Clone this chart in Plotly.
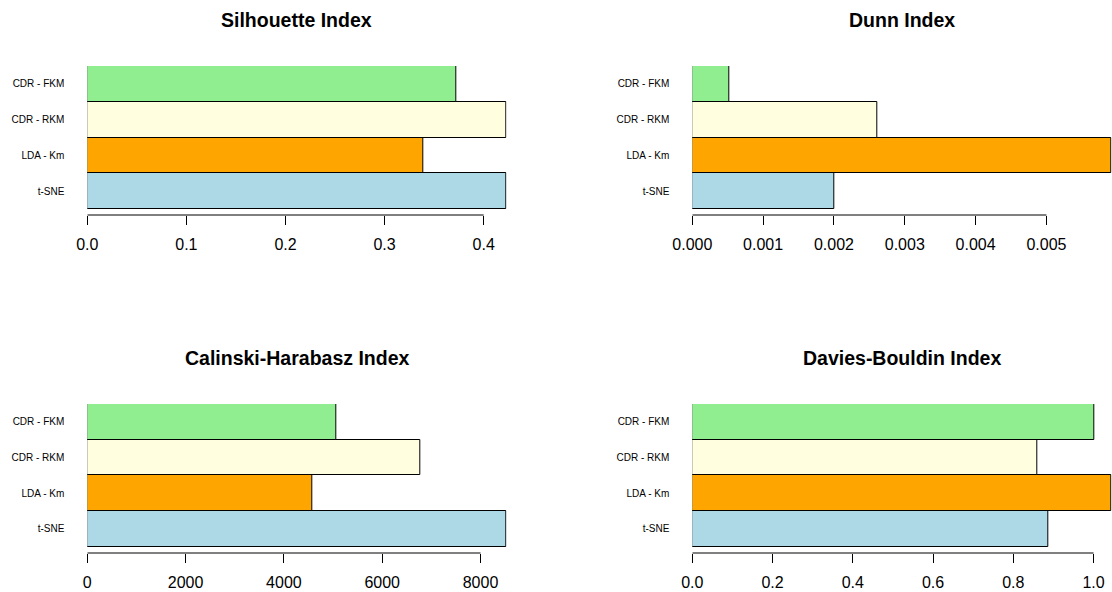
import plotly.graph_objects as go

# Clustering methods, listed bottom to top
methods = ["t-SNE", "LDA - Km", "CDR - RKM", "CDR - FKM"]
bar_colors = ["#ADD8E6", "#FFA500", "#FFFFE0", "#90EE90"]

# Validity index values per method (same order as methods)
silhouette = [0.4230, 0.3386, 0.4227, 0.3725]
dunn = [0.00200, 0.00592, 0.00261, 0.000526]
calinski = [8529, 4576, 6780, 5071]
davies_bouldin = [0.886, 1.045, 0.860, 1.002]

# Axis ticks
sil_ticks = [0, 0.1, 0.2, 0.3, 0.4]
sil_labels = ["0.0", "0.1", "0.2", "0.3", "0.4"]
dunn_ticks = [0, 0.001, 0.002, 0.003, 0.004, 0.005]
dunn_labels = ["0.000", "0.001", "0.002", "0.003", "0.004", "0.005"]
ch_ticks = [0, 2000, 4000, 6000, 8000]
ch_labels = ["0", "2000", "4000", "6000", "8000"]
db_ticks = [0, 0.2, 0.4, 0.6, 0.8, 1.0]
db_labels = ["0.0", "0.2", "0.4", "0.6", "0.8", "1.0"]

titles = ["Silhouette Index", "Dunn Index", "Calinski-Harabasz Index", "Davies-Bouldin Index"]

# Page geometry (pixels)
W, H = 1112, 592
cols = [(87.3, 506.5), (692.3, 1111.6)]
# (bars top, bars bottom, axis line, title centre)
rows = [(66.0, 209.0, 215.0, 20.0), (404.0, 546.5, 553.0, 358.0)]

panels = [
    (titles[0], silhouette, sil_ticks, sil_labels, 0, 0),
    (titles[1], dunn, dunn_ticks, dunn_labels, 1, 0),
    (titles[2], calinski, ch_ticks, ch_labels, 0, 1),
    (titles[3], davies_bouldin, db_ticks, db_labels, 1, 1),
]

FONT = "Liberation Sans, Arial, Helvetica, sans-serif"

fig = go.Figure()
layout = dict(
    width=W, height=H,
    margin=dict(l=0, r=0, t=0, b=0),
    paper_bgcolor="white", plot_bgcolor="white",
    showlegend=False, bargap=0,
    font=dict(family=FONT, color="black"),
)
shapes, annotations = [], []

for i, (title, vals, tv, tt, c, r) in enumerate(panels):
    k = "" if i == 0 else str(i + 1)
    x0, x1 = cols[c]
    top, bot, axis_y, title_y = rows[r]
    bar_px = (bot - top) / len(methods)
    pad = (axis_y - bot) / bar_px

    fig.add_trace(go.Bar(
        x=vals, y=methods, orientation="h",
        marker=dict(color=bar_colors, line=dict(color="black", width=1)),
        xaxis="x" + k, yaxis="y" + k, width=1.0,
        hoverinfo="x+y",
    ))

    layout["xaxis" + k] = dict(
        domain=[x0 / W, x1 / W], anchor="y" + k, automargin=False,
        range=[0, max(vals)], showgrid=False, zeroline=False, showline=False,
        tickmode="array", tickvals=tv, ticktext=tt,
        ticks="outside", ticklen=9, tickwidth=1, tickcolor="black",
        tickfont=dict(size=16, color="black", family=FONT),
        ticklabelstandoff=6,
    )
    layout["yaxis" + k] = dict(
        domain=[1 - axis_y / H, 1 - top / H], anchor="x" + k, automargin=False,
        type="category", categoryorder="array", categoryarray=methods,
        range=[-0.5 - pad, len(methods) - 0.5],
        showgrid=False, zeroline=False, showline=False, ticks="",
        tickfont=dict(size=10, color="black", family=FONT),
        ticklabelstandoff=22,
    )
    # axis line spanning first to last tick
    shapes.append(dict(
        type="line", xref="x" + k, yref="y" + k + " domain",
        x0=tv[0], x1=tv[-1], y0=0, y1=0,
        line=dict(color="black", width=1),
    ))
    annotations.append(dict(
        text=title, showarrow=False, xref="paper", yref="paper",
        x=(x0 + x1) / 2 / W, y=1 - title_y / H,
        xanchor="center", yanchor="middle",
        font=dict(size=19.5, color="black", family=FONT, weight="bold"),
    ))

layout["shapes"] = shapes
layout["annotations"] = annotations
fig.update_layout(**layout)
fig.write_html("out.html")
